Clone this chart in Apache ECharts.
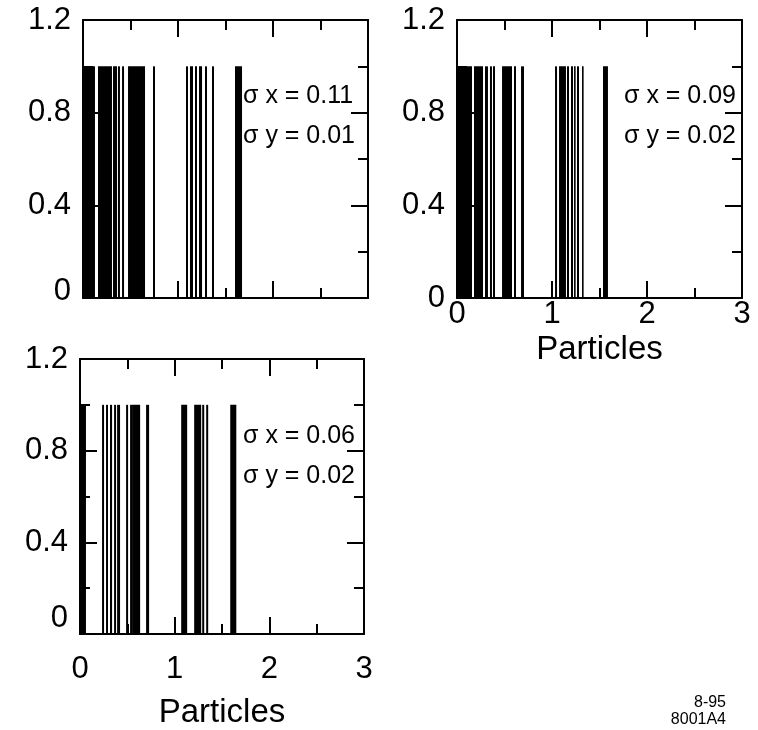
<!DOCTYPE html>
<html>
<head>
<meta charset="utf-8">
<script src="https://cdn.jsdelivr.net/npm/echarts@6/dist/echarts.min.js"></script>
<style>
html,body{margin:0;padding:0;background:#fff;}
#chart{width:758px;height:730px;}
</style>
</head>
<body>
<div id="chart"></div>
<script>
// Occupied particle intervals [start, end] along the axis, each of height barHeight
const panel1Bars = [[0,0.126],[0.158,0.305],[0.316,0.358],[0.368,0.389],[0.411,0.432],[0.474,0.653],[0.737,0.758],[1.084,1.105],[1.126,1.158],[1.179,1.2],[1.221,1.253],[1.284,1.305],[1.358,1.379],[1.6,1.674]];
const panel2Bars = [[0,0.158],[0.179,0.274],[0.295,0.326],[0.347,0.368],[0.379,0.4],[0.474,0.579],[0.6,0.621],[0.674,0.705],[1.032,1.053],[1.074,1.147],[1.158,1.179],[1.2,1.221],[1.232,1.242],[1.263,1.284],[1.316,1.326],[1.537,1.589]];
const panel3Bars = [[0,0.063],[0.233,0.254],[0.275,0.296],[0.317,0.339],[0.36,0.381],[0.392,0.423],[0.487,0.508],[0.529,0.55],[0.55,0.635],[0.698,0.73],[1.069,1.132],[1.206,1.28],[1.291,1.312],[1.333,1.354],[1.587,1.651]];
const barHeight = 1.0;
const sigmaX = ['σ x = 0.11','σ x = 0.09','σ x = 0.06'];
const sigmaY = ['σ y = 0.01','σ y = 0.02','σ y = 0.02'];
const xName = 'Particles';
const footnote = ['8-95','8001A4'];
const yRange = [0, 1.2, 0.4];
const xRange = [0, 3, 1];

const FONT = '"Liberation Sans", Arial, Helvetica, sans-serif';
const grids = [
  {left:83, top:20, width:285, height:278},
  {left:457, top:20, width:285, height:278},
  {left:80, top:359, width:284, height:278}
];
const showXLabels = [false, true, true];
const xLabelMargin = [1, 1, 20];
const xNameGap = [35, 35, 62];
const zeroLift = [14, 0, 32];
const panels = [panel1Bars, panel2Bars, panel3Bars];

const axisLine = {show:true, onZero:false, lineStyle:{color:'#000', width:2}};
const tick = {show:true, inside:true, length:17, lineStyle:{color:'#000', width:2}};
const minor = {show:true, splitNumber:2, length:10, lineStyle:{color:'#000', width:2}};

const xAxes = [], yAxes = [], series = [];
grids.forEach((g, i) => {
  xAxes.push({
    type:'value', gridIndex:i, position:'bottom', min:xRange[0], max:xRange[1], interval:xRange[2],
    axisLine, axisTick:tick, minorTick:minor, splitLine:{show:false},
    axisLabel:{show:showXLabels[i], color:'#000', fontSize:31, fontFamily:FONT, margin:xLabelMargin[i]},
    name: showXLabels[i] ? xName : '', nameLocation:'middle', nameGap:xNameGap[i],
    nameTextStyle:{color:'#000', fontSize:33, fontFamily:FONT}
  });
  xAxes.push({
    type:'value', gridIndex:i, position:'top', min:xRange[0], max:xRange[1], interval:xRange[2],
    axisLine, axisTick:tick, minorTick:minor, splitLine:{show:false}, axisLabel:{show:false}
  });
  yAxes.push({
    type:'value', gridIndex:i, position:'left', min:yRange[0], max:yRange[1], interval:yRange[2],
    axisLine, axisTick:tick, minorTick:minor, splitLine:{show:false},
    axisLabel:{show:true, color:'#000', fontSize:31, fontFamily:FONT, margin:12,
      formatter: v => v === 0 ? '{z|0}' : v.toFixed(1),
      rich:{z:{fontSize:31, fontFamily:FONT, color:'#000', padding:[0,0,zeroLift[i],0]}}}
  });
  yAxes.push({
    type:'value', gridIndex:i, position:'right', min:yRange[0], max:yRange[1], interval:yRange[2],
    axisLine, axisTick:tick, minorTick:minor, splitLine:{show:false}, axisLabel:{show:false}
  });
  series.push({
    type:'custom', xAxisIndex:2*i, yAxisIndex:2*i,
    data: panels[i].map(b => [b[0], b[1], barHeight]),
    encode:{x:[0,1], y:2},
    renderItem: function(params, api){
      const p0 = api.coord([api.value(0), api.value(2)]);
      const p1 = api.coord([api.value(1), 0]);
      const w = Math.max(p1[0]-p0[0], 1.6);
      return {type:'rect', shape:{x:p0[0], y:p0[1], width:w, height:p1[1]-p0[1]}, style:{fill:'#000'}};
    }
  });
});

const graphics = [];
const sigmaPos = [[243, 98], [624, 98], [243, 438]];
sigmaPos.forEach((p, i) => {
  graphics.push({type:'text', left:p[0], top:p[1]-14, style:{text:sigmaX[i], fill:'#000', font:'25px '+FONT}});
  graphics.push({type:'text', left:p[0], top:p[1]+26, style:{text:sigmaY[i], fill:'#000', font:'25px '+FONT}});
});
graphics.push({type:'text', right:32, top:695, style:{text:footnote[0], fill:'#000', font:'16px '+FONT, align:'right'}});
graphics.push({type:'text', right:32, top:712, style:{text:footnote[1], fill:'#000', font:'16px '+FONT, align:'right'}});

const chart = echarts.init(document.getElementById('chart'), null, {renderer:'canvas'});
chart.setOption({
  animation:false,
  backgroundColor:'#fff',
  grid: grids,
  xAxis: xAxes,
  yAxis: yAxes,
  series: series,
  graphic: graphics
});
</script>
</body>
</html>
